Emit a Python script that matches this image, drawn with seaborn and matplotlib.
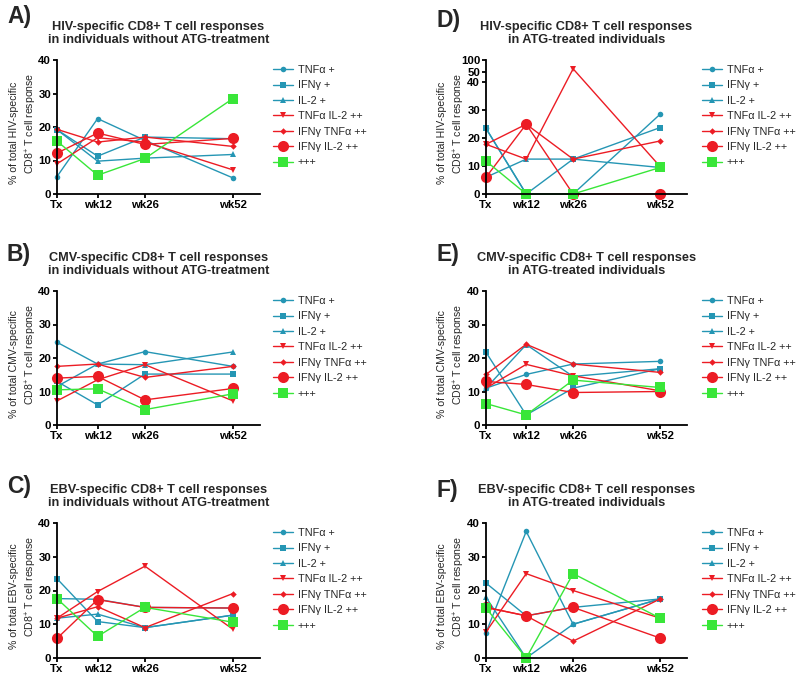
import numpy as np
import matplotlib
matplotlib.use("Agg")
import matplotlib.pyplot as plt
import seaborn as sns

timepoints = ["Tx", "wk12", "wk26", "wk52"]
weeks = [0, 12, 26, 52]
series_labels = ["TNFα +", "IFNγ +", "IL-2 +", "TNFα IL-2 ++",
                 "IFNγ TNFα ++", "IFNγ IL-2 ++", "+++"]

# Panel A: HIV, without ATG
A_tnf = [5.2, 22.5, 16.0, 4.8]
A_ifn = [19.2, 11.3, 17.0, 16.5]
A_il2 = [19.2, 9.8, 10.7, 11.8]
A_tnf_il2 = [9.0, 16.8, 15.5, 7.2]
A_ifn_tnf = [19.3, 15.5, 17.0, 14.2]
A_ifn_il2 = [12.2, 18.2, 14.8, 16.6]
A_triple = [15.8, 5.6, 10.6, 28.5]

# Panel B: CMV, without ATG
B_tnf = [24.7, 18.2, 21.9, 17.5]
B_ifn = [13.0, 6.0, 15.2, 15.2]
B_il2 = [11.5, 18.2, 18.0, 21.8]
B_tnf_il2 = [7.2, 13.5, 18.0, 7.2]
B_ifn_tnf = [17.5, 18.2, 14.2, 17.5]
B_ifn_il2 = [14.0, 14.5, 7.5, 10.9]
B_triple = [10.5, 10.8, 4.6, 9.3]

# Panel C: EBV, without ATG
C_tnf = [17.6, 17.4, 15.0, 14.8]
C_ifn = [23.5, 10.8, 9.0, 12.7]
C_il2 = [11.8, 13.0, 9.0, 12.7]
C_tnf_il2 = [11.8, 19.7, 27.2, 8.5]
C_ifn_tnf = [11.8, 15.2, 9.0, 19.1]
C_ifn_il2 = [5.8, 17.3, 15.0, 14.8]
C_triple = [17.6, 6.4, 15.0, 10.6]

# Panel D: HIV, ATG-treated
D_tnf = [23.5, 0.0, 0.0, 28.6]
D_ifn = [23.5, 0.0, 12.5, 23.8]
D_il2 = [6.0, 12.5, 12.5, 9.5]
D_tnf_il2 = [17.8, 12.5, 62.5, 9.8]
D_ifn_tnf = [17.8, 25.0, 12.5, 19.0]
D_ifn_il2 = [6.0, 25.0, 0.0, 0.0]
D_triple = [11.8, 0.0, 0.0, 9.5]

# Panel E: CMV, ATG-treated
E_tnf = [11.0, 15.1, 18.2, 19.0]
E_ifn = [21.7, 3.0, 11.0, 16.8]
E_il2 = [11.0, 24.0, 14.5, 16.8]
E_tnf_il2 = [11.0, 18.1, 14.7, 10.2]
E_ifn_tnf = [15.1, 24.1, 18.2, 15.7]
E_ifn_il2 = [13.0, 12.1, 9.7, 10.0]
E_triple = [6.4, 3.0, 13.4, 11.2]

# Panel F: EBV, ATG-treated
F_tnf = [7.5, 37.5, 10.0, 17.5]
F_ifn = [22.2, 12.5, 15.0, 17.5]
F_il2 = [18.0, 0.0, 10.0, 17.5]
F_tnf_il2 = [7.7, 25.0, 20.0, 11.8]
F_ifn_tnf = [15.0, 12.5, 5.0, 17.5]
F_ifn_il2 = [15.0, 12.5, 15.0, 5.9]
F_triple = [14.8, 0.0, 25.0, 11.8]

TEAL = "#2596B4"
RED = "#EC1C24"
GREEN = "#39E639"
styles = [
    (TEAL, "o", 4.0),
    (TEAL, "s", 4.0),
    (TEAL, "^", 4.0),
    (RED, "v", 4.0),
    (RED, "D", 3.3),
    (RED, "o", 8.0),
    (GREEN, "s", 7.2),
]

sns.set_style("ticks")
plt.rcParams["font.family"] = ["Liberation Sans", "DejaVu Sans"]
plt.rcParams["mathtext.fontset"] = "custom"
plt.rcParams["mathtext.rm"] = "Liberation Sans"
plt.rcParams["mathtext.bf"] = "Liberation Sans:bold"

fig = plt.figure(figsize=(8, 6.8), dpi=100)
W, H = 800.0, 680.0


def fwd(v):
    v = np.asarray(v, dtype=float)
    return np.where(v <= 40, v, np.where(v <= 50, 40 + (v - 40) * 0.38,
                                         43.8 + (v - 50) * 0.084))


def inv(t):
    t = np.asarray(t, dtype=float)
    return np.where(t <= 40, t, np.where(t <= 43.8, 40 + (t - 40) / 0.38,
                                         50 + (t - 43.8) / 0.084))


panels = [
    ("A)", "HIV-specific CD8+ T cell responses\nin individuals without ATG-treatment", "HIV",
     [A_tnf, A_ifn, A_il2, A_tnf_il2, A_ifn_tnf, A_ifn_il2, A_triple], 0, 0, False),
    ("B)", "CMV-specific CD8+ T cell responses\nin individuals without ATG-treatment", "CMV",
     [B_tnf, B_ifn, B_il2, B_tnf_il2, B_ifn_tnf, B_ifn_il2, B_triple], 0, 1, False),
    ("C)", "EBV-specific CD8+ T cell responses\nin individuals without ATG-treatment", "EBV",
     [C_tnf, C_ifn, C_il2, C_tnf_il2, C_ifn_tnf, C_ifn_il2, C_triple], 0, 2, False),
    ("D)", "HIV-specific CD8+ T cell responses\nin ATG-treated individuals", "HIV",
     [D_tnf, D_ifn, D_il2, D_tnf_il2, D_ifn_tnf, D_ifn_il2, D_triple], 1, 0, True),
    ("E)", "CMV-specific CD8+ T cell responses\nin ATG-treated individuals", "CMV",
     [E_tnf, E_ifn, E_il2, E_tnf_il2, E_ifn_tnf, E_ifn_il2, E_triple], 1, 1, False),
    ("F)", "EBV-specific CD8+ T cell responses\nin ATG-treated individuals", "EBV",
     [F_tnf, F_ifn, F_il2, F_tnf_il2, F_ifn_tnf, F_ifn_il2, F_triple], 1, 2, False),
]

col_x = [(57, 260), (486, 687)]
row_y = [(60, 194), (291, 425), (523, 658)]
letter_y = [[16, 255, 487], [20, 254, 490]]
letter_x = [7, 436]
ylab_x = [(14, 31), (442, 459)]
legend_x = [273, 702]
legend_top = [65, 296, 528]

for letter, title, virus, data, col, row, broken in panels:
    x0, x1 = col_x[col]
    ytop, ybot = row_y[row]
    ax = fig.add_axes([x0 / W, 1 - ybot / H, (x1 - x0) / W, (ybot - ytop) / H])
    for lab, vals, (c, m, ms) in zip(series_labels, data, styles):
        sns.lineplot(x=weeks, y=vals, ax=ax, color=c, marker=m, markersize=ms,
                     markeredgewidth=0, linewidth=1.0, label=lab, clip_on=False,
                     errorbar=None, sort=False)
    ax.set_xlim(0, 60)
    if broken:
        ax.set_yscale("function", functions=(fwd, inv))
        ax.set_ylim(0, 100)
        ax.set_yticks([0, 10, 20, 30, 40, 50, 100])
    else:
        ax.set_ylim(0, 40)
        ax.set_yticks([0, 10, 20, 30, 40])
    ax.set_xticks(weeks)
    ax.set_xticklabels(timepoints)
    for s in ["top", "right"]:
        ax.spines[s].set_visible(False)
    for s in ["left", "bottom"]:
        ax.spines[s].set_linewidth(1.3)
        ax.spines[s].set_color("black")
    ax.tick_params(axis="both", direction="out", length=3, width=1.3,
                   labelsize=8.2, pad=1.2, colors="black")
    for t in ax.get_xticklabels() + ax.get_yticklabels():
        t.set_fontweight("bold")
    ax.set_xlabel("")
    ax.set_ylabel("")
    ax.set_title(title, fontsize=9.2, fontweight="bold", pad=12, linespacing=1.1)
    fig.text(letter_x[col] / W, 1 - letter_y[col][row] / H, letter, fontsize=16.5,
             fontweight="bold", ha="left", va="center")
    yc = (ytop + ybot) / 2
    fig.text(ylab_x[col][0] / W, 1 - (yc + 6) / H, f"% of total {virus}-specific",
             rotation=90, fontsize=7.6, ha="center", va="center")
    fig.text(ylab_x[col][1] / W, 1 - (yc - 4) / H, "CD8$^{+}$ T cell response",
             rotation=90, fontsize=7.6, ha="center", va="center")
    handles, labels = ax.get_legend_handles_labels()
    ax.legend(handles, labels, loc="upper left",
              bbox_to_anchor=(legend_x[col] / W, 1 - legend_top[row] / H),
              bbox_transform=fig.transFigure, frameon=False, fontsize=7.8,
              borderpad=0, borderaxespad=0, handlelength=1.8, handletextpad=0.5,
              labelspacing=0.5)

fig.savefig("out.png", dpi=100)
